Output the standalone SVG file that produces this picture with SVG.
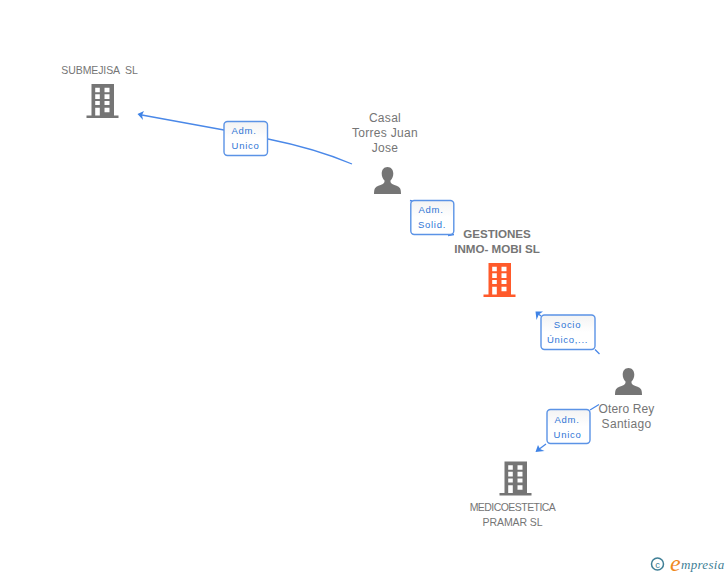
<svg xmlns="http://www.w3.org/2000/svg" width="728" height="575" viewBox="0 0 728 575">
<style>
text{font-family:"Liberation Sans",Arial,sans-serif}
.n{font-size:10.5px;fill:#757575;text-anchor:middle;white-space:pre}
.p{font-size:12px;fill:#757575;text-anchor:middle;letter-spacing:.3px}
.b{font-size:11.6px;font-weight:bold;fill:#757575;text-anchor:middle}
.l{font-size:9.5px;fill:#2f76d6;text-anchor:middle;letter-spacing:.7px}
.box{fill:url(#g);stroke:#5b93e6;stroke-width:1.4}
.e{fill:none;stroke:#4a88e8;stroke-width:1.3}
.a{fill:#3f83e6}
</style>
<defs>
<linearGradient id="g" x1="0" y1="0" x2="0" y2="1"><stop offset="0" stop-color="#f3f3f3"/><stop offset=".5" stop-color="#fff"/><stop offset="1" stop-color="#fff"/></linearGradient>
<symbol id="bld" viewBox="0 0 32 34" width="32" height="34" overflow="visible">
<path fill-rule="evenodd" d="M5 0H27.500V31.500H32V34H0V31.500H5ZM8.700 3.700V8.300H13.300V3.700ZM18 3.700V8.300H23V3.700ZM8.700 10.300V15H13.300V10.300ZM18 10.300V15H23V10.300ZM8.700 17V21H13.300V17ZM18 17V21H23V17ZM8.700 23.700V31.500H13.300V23.700ZM18 23.700V28.300H23V23.700Z"/>
</symbol>
<symbol id="psn" viewBox="0 0 27 27" width="27" height="27" overflow="visible">
<path d="M13.500 0C9.800 0 7.700 2.900 7.700 6.500C7.700 9.500 8.900 12 10.500 13.600C10.700 15.200 10.200 16.300 8.800 17C6 18.300 2.500 19 1 21.200C.3 22.300 0 24.500 0 27H27C27 24.500 26.700 22.300 26 21.200C24.500 19 21 18.300 18.200 17C16.800 16.300 16.300 15.200 16.500 13.600C18.100 12 19.300 9.500 19.300 6.500C19.300 2.900 17.200 0 13.500 0Z"/>
</symbol>
</defs>
<rect width="728" height="575" fill="#fff"/>
<g id="connectors">
<path class="e" d="M352 164C326 153 298 145 268 139M224 130L139 114.500"/>
<path class="a" d="M137.500 114L144 111L142 115L143 120Z"/>
<path class="e" d="M410 200.500L412 201M448 235.500L454 234.500"/>
<path class="e" d="M595 349.500L599.500 354M541 316L537 313"/>
<path class="a" d="M535.500 311.500L543 311.500L538.800 314.500L536.500 320Z"/>
<path class="e" d="M590 410L599 404.500M546 444L538 450"/>
<path class="a" d="M535.500 452L538 445L540 449L544.500 451Z"/>
</g>
<g id="node-submejisa"><text class="n" x="99.500" y="74" style="letter-spacing:-.1px">SUBMEJISA  SL</text><use href="#bld" x="86.500" y="84" fill="#757575"/></g>
<g id="node-casal"><text class="p" x="385" y="122">Casal</text><text class="p" x="385" y="137">Torres Juan</text><text class="p" x="385" y="152">Jose</text><use href="#psn" x="374" y="167" fill="#757575"/></g>
<g id="node-gestiones"><text class="b" x="497" y="238">GESTIONES</text><text class="b" x="497" y="253">INMO- MOBI SL</text><use href="#bld" x="483.500" y="263" fill="#ff5a2b"/></g>
<g id="node-otero"><use href="#psn" x="615" y="368" fill="#757575"/><text class="p" x="626.500" y="413" style="letter-spacing:.15px">Otero Rey</text><text class="p" x="626.500" y="428">Santiago</text></g>
<g id="node-medico"><use href="#bld" x="499.500" y="461.500" fill="#757575"/><text class="n" x="512.500" y="511" style="letter-spacing:-.55px">MEDICOESTETICA</text><text class="n" x="512.500" y="526" style="letter-spacing:-.1px">PRAMAR SL</text></g>
<g id="label-1"><rect class="box" x="224" y="121.500" width="43.500" height="34" rx="3.500"/><text class="l" x="244" y="134">Adm.</text><text class="l" x="245.500" y="149">Unico</text></g>
<g id="label-2"><rect class="box" x="410.800" y="200.500" width="43" height="34" rx="3.500"/><text class="l" x="431" y="213">Adm.</text><text class="l" x="432" y="228">Solid.</text></g>
<g id="label-3"><rect class="box" x="541" y="315" width="54" height="34.500" rx="3.500"/><text class="l" x="567.500" y="328">Socio</text><text class="l" x="567.500" y="343">Único,...</text></g>
<g id="label-4"><rect class="box" x="547" y="409.500" width="43" height="34" rx="3.500"/><text class="l" x="567" y="423">Adm.</text><text class="l" x="567.500" y="438">Unico</text></g>
<g id="logo"><circle cx="657.500" cy="564" r="6" fill="none" stroke="#3f7f96" stroke-width="1.500"/><text x="657.500" y="567.500" font-size="9.500" fill="#3f7f96" text-anchor="middle">c</text><text x="670" y="571" font-size="24" font-style="italic" fill="#f08a1d" style="font-family:'Liberation Serif',serif">e</text><text x="681" y="569" font-size="13" font-style="italic" fill="#3f7f96" style="font-family:'Liberation Serif',serif" letter-spacing=".3">mpresia</text></g>
</svg>
